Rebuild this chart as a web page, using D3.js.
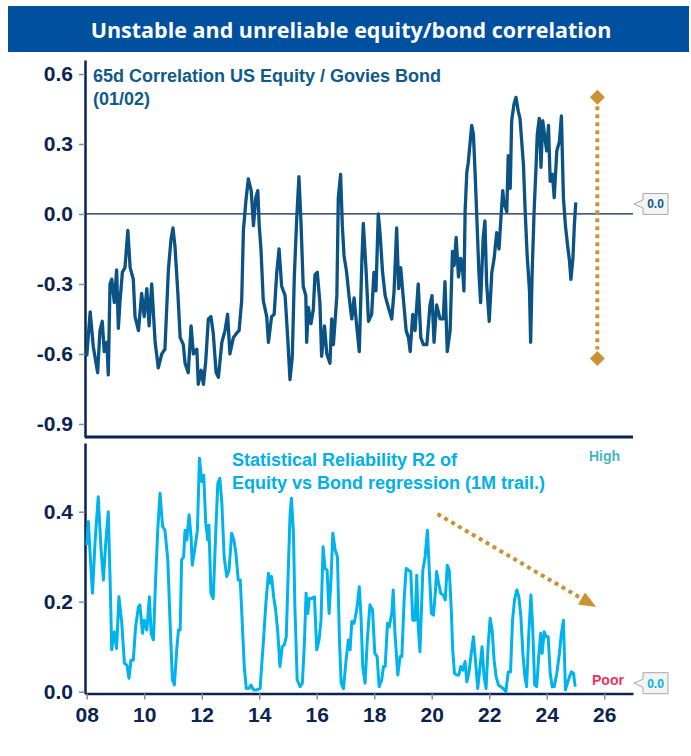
<!DOCTYPE html>
<html>
<head>
<meta charset="utf-8">
<script src="https://cdn.jsdelivr.net/npm/d3@7"></script>
<style>
  html, body { margin: 0; padding: 0; background: #ffffff; }
  svg { display: block; }
</style>
</head>
<body>
<svg id="chart" width="691" height="756"></svg>
<script>
// ---------------- DATA ----------------
const titleText = "Unstable and unreliable equity/bond correlation";
const corrLabel = ["65d Correlation US Equity / Govies Bond", "(01/02)"];
const r2Label = ["Statistical Reliability R2 of", "Equity vs Bond regression (1M trail.)"];

const corrYears = [2008.0,2008.12,2008.23,2008.38,2008.46,2008.54,2008.61,2008.70,2008.75,2008.81,2008.87,2008.96,2009.04,2009.10,2009.16,2009.24,2009.33,2009.43,2009.51,2009.62,2009.68,2009.80,2009.91,2010.0,2010.09,2010.17,2010.26,2010.38,2010.49,2010.61,2010.72,2010.84,2010.93,2011.0,2011.07,2011.17,2011.25,2011.36,2011.42,2011.53,2011.63,2011.71,2011.83,2011.88,2011.98,2012.06,2012.14,2012.23,2012.32,2012.40,2012.50,2012.58,2012.70,2012.81,2012.90,2012.98,2013.10,2013.22,2013.30,2013.39,2013.45,2013.54,2013.62,2013.72,2013.80,2013.88,2013.95,2014.0,2014.06,2014.14,2014.26,2014.32,2014.43,2014.52,2014.61,2014.69,2014.78,2014.90,2014.99,2015.07,2015.15,2015.22,2015.30,2015.38,2015.45,2015.53,2015.62,2015.65,2015.71,2015.80,2015.88,2015.94,2016.02,2016.11,2016.17,2016.27,2016.35,2016.46,2016.52,2016.58,2016.70,2016.75,2016.83,2016.89,2016.95,2017.04,2017.13,2017.22,2017.30,2017.39,2017.48,2017.57,2017.62,2017.72,2017.80,2017.91,2017.99,2018.06,2018.14,2018.20,2018.29,2018.38,2018.49,2018.61,2018.69,2018.78,2018.85,2018.92,2019.01,2019.11,2019.19,2019.25,2019.34,2019.42,2019.53,2019.62,2019.71,2019.83,2019.94,2020.01,2020.08,2020.17,2020.29,2020.40,2020.46,2020.54,2020.64,2020.72,2020.78,2020.85,2020.93,2021.01,2021.08,2021.12,2021.16,2021.22,2021.27,2021.33,2021.39,2021.45,2021.51,2021.57,2021.64,2021.70,2021.79,2021.85,2021.91,2022.00,2022.09,2022.17,2022.26,2022.34,2022.40,2022.47,2022.51,2022.61,2022.66,2022.73,2022.78,2022.86,2022.93,2023.01,2023.07,2023.13,2023.19,2023.25,2023.32,2023.40,2023.44,2023.49,2023.56,2023.63,2023.67,2023.74,2023.80,2023.86,2023.94,2024.0,2024.06,2024.12,2024.20,2024.26,2024.35,2024.44,2024.51,2024.58,2024.65,2024.72,2024.79,2024.84,2024.91,2024.96,2025.01];
const corrValues = [-0.61,-0.42,-0.57,-0.68,-0.50,-0.46,-0.59,-0.55,-0.69,-0.30,-0.28,-0.38,-0.24,-0.49,-0.37,-0.25,-0.23,-0.07,-0.23,-0.28,-0.44,-0.50,-0.34,-0.44,-0.32,-0.48,-0.30,-0.55,-0.66,-0.60,-0.58,-0.24,-0.11,-0.06,-0.14,-0.34,-0.53,-0.56,-0.64,-0.68,-0.48,-0.60,-0.58,-0.73,-0.67,-0.73,-0.63,-0.45,-0.44,-0.51,-0.68,-0.70,-0.55,-0.50,-0.43,-0.60,-0.53,-0.51,-0.50,-0.37,-0.07,0.06,0.15,0.10,-0.05,0.07,0.10,-0.05,-0.15,-0.37,-0.44,-0.55,-0.44,-0.43,-0.25,-0.15,-0.31,-0.35,-0.53,-0.71,-0.61,-0.27,-0.03,0.16,-0.03,-0.31,-0.35,-0.55,-0.40,-0.47,-0.41,-0.26,-0.25,-0.38,-0.61,-0.48,-0.60,-0.64,-0.45,-0.56,-0.35,0.07,0.17,-0.05,-0.18,-0.25,-0.36,-0.45,-0.36,-0.48,-0.59,-0.20,-0.04,-0.25,-0.46,-0.43,-0.25,-0.33,0.00,-0.08,-0.25,-0.35,-0.40,-0.45,-0.33,-0.06,-0.32,-0.23,-0.36,-0.50,-0.53,-0.59,-0.43,-0.50,-0.30,-0.53,-0.56,-0.56,-0.39,-0.35,-0.55,-0.39,-0.45,-0.45,-0.29,-0.59,-0.50,-0.16,-0.22,-0.10,-0.27,-0.19,-0.25,-0.33,0.01,0.18,0.22,0.30,0.38,0.34,0.17,-0.02,-0.25,-0.38,-0.10,-0.03,-0.30,-0.46,-0.25,-0.19,-0.08,-0.15,-0.03,0.10,0.05,0.01,0.25,0.11,0.40,0.47,0.50,0.44,0.41,0.31,0.21,0.01,-0.18,-0.33,-0.55,-0.26,0.01,0.21,0.34,0.41,0.20,0.40,0.32,0.27,0.38,0.14,0.17,0.07,0.27,0.31,0.42,0.07,-0.05,-0.13,-0.20,-0.28,-0.19,-0.05,0.05];

const r2Years = [2008.0,2008.06,2008.11,2008.20,2008.29,2008.40,2008.50,2008.58,2008.66,2008.75,2008.81,2008.87,2008.96,2009.04,2009.12,2009.22,2009.31,2009.40,2009.47,2009.54,2009.62,2009.70,2009.80,2009.85,2009.94,2010.0,2010.09,2010.18,2010.24,2010.32,2010.40,2010.47,2010.55,2010.64,2010.72,2010.82,2010.90,2010.98,2011.05,2011.13,2011.19,2011.25,2011.30,2011.37,2011.42,2011.48,2011.56,2011.63,2011.67,2011.77,2011.85,2011.92,2012.0,2012.07,2012.14,2012.21,2012.25,2012.32,2012.40,2012.49,2012.56,2012.63,2012.70,2012.78,2012.87,2012.95,2013.04,2013.12,2013.19,2013.27,2013.34,2013.41,2013.48,2013.55,2013.64,2013.71,2013.80,2013.91,2014.03,2014.09,2014.14,2014.23,2014.32,2014.38,2014.43,2014.50,2014.57,2014.64,2014.72,2014.80,2014.87,2014.94,2015.01,2015.07,2015.12,2015.19,2015.24,2015.32,2015.42,2015.50,2015.57,2015.63,2015.69,2015.74,2015.83,2015.92,2016.0,2016.08,2016.15,2016.22,2016.29,2016.36,2016.43,2016.50,2016.56,2016.64,2016.72,2016.79,2016.85,2016.93,2017.02,2017.10,2017.16,2017.22,2017.30,2017.39,2017.48,2017.54,2017.60,2017.68,2017.76,2017.85,2017.94,2018.02,2018.10,2018.17,2018.26,2018.32,2018.38,2018.46,2018.52,2018.61,2018.66,2018.72,2018.82,2018.90,2018.96,2019.04,2019.11,2019.19,2019.27,2019.34,2019.42,2019.48,2019.53,2019.59,2019.69,2019.77,2019.85,2019.92,2019.99,2020.06,2020.13,2020.17,2020.24,2020.31,2020.40,2020.47,2020.54,2020.61,2020.68,2020.73,2020.79,2020.87,2020.94,2021.01,2021.08,2021.16,2021.22,2021.29,2021.36,2021.45,2021.52,2021.60,2021.68,2021.75,2021.82,2021.89,2021.96,2022.03,2022.10,2022.17,2022.24,2022.32,2022.40,2022.49,2022.58,2022.66,2022.74,2022.81,2022.88,2022.96,2023.03,2023.10,2023.17,2023.24,2023.30,2023.37,2023.45,2023.51,2023.58,2023.65,2023.72,2023.79,2023.84,2023.91,2023.98,2024.05,2024.12,2024.19,2024.26,2024.35,2024.44,2024.51,2024.58,2024.65,2024.72,2024.79,2024.86,2024.93,2024.99];
const r2Values = [0.326,0.378,0.315,0.219,0.333,0.433,0.315,0.248,0.330,0.400,0.256,0.093,0.133,0.096,0.211,0.152,0.063,0.059,0.030,0.070,0.070,0.144,0.189,0.193,0.130,0.159,0.137,0.211,0.130,0.115,0.256,0.359,0.441,0.367,0.359,0.293,0.152,0.026,0.015,0.093,0.137,0.137,0.293,0.300,0.359,0.337,0.393,0.344,0.281,0.322,0.359,0.519,0.467,0.481,0.374,0.337,0.370,0.219,0.207,0.359,0.463,0.474,0.419,0.300,0.256,0.270,0.352,0.337,0.307,0.248,0.248,0.152,0.056,0.007,0.007,0.015,0.004,0.004,0.007,0.063,0.107,0.196,0.263,0.241,0.256,0.211,0.182,0.137,0.056,0.100,0.104,0.122,0.270,0.389,0.430,0.352,0.189,0.026,0.011,0.019,0.107,0.219,0.174,0.207,0.207,0.211,0.093,0.115,0.159,0.322,0.274,0.270,0.174,0.256,0.352,0.315,0.300,0.115,0.019,0.007,0.070,0.115,0.093,0.156,0.152,0.182,0.233,0.167,0.056,0.019,0.115,0.193,0.182,0.085,0.078,0.011,0.026,0.056,0.056,0.152,0.144,0.174,0.226,0.130,0.037,0.078,0.078,0.204,0.274,0.270,0.267,0.159,0.159,0.259,0.144,0.089,0.270,0.300,0.359,0.263,0.174,0.170,0.226,0.267,0.241,0.219,0.215,0.204,0.281,0.270,0.182,0.093,0.041,0.037,0.037,0.056,0.048,0.067,0.022,0.041,0.078,0.122,0.070,0.007,0.056,0.100,0.033,0.007,0.100,0.163,0.137,0.070,0.033,0.015,0.011,0.007,0.000,0.044,0.044,0.159,0.204,0.226,0.211,0.167,0.085,0.033,0.011,0.122,0.215,0.144,0.015,0.011,0.078,0.130,0.085,0.133,0.122,0.122,0.041,0.011,0.011,0.041,0.085,0.130,0.159,0.004,0.019,0.033,0.044,0.041,0.011];

const xTicks = [2008, 2010, 2012, 2014, 2016, 2018, 2020, 2022, 2024, 2026];
const yTopTicks = [0.6, 0.3, 0.0, -0.3, -0.6, -0.9];
const yBotTicks = [0.0, 0.2, 0.4];

// annotation anchor values (data units)
const rangeMarkX = 2025.76;
const rangeMarkVals = [0.5, -0.62];
const trendArrow = { x0: 2020.2, y0: 0.395, x1: 2025.72, y1: 0.188 };

// ---------------- STYLE ----------------
const C = {
  titleBg: "#0050a0",
  navy: "#0b2350",
  tickGray: "#7f8ca3",
  corrLine: "#0b5384",
  corrText: "#0e5b8b",
  r2Line: "#00b3ec",
  r2Text: "#00b0e8",
  gold: "#c99335",
  high: "#45b5c2",
  poor: "#e8355f"
};
const tickFont = "'Liberation Sans', Arial, sans-serif";

const svg = d3.select("#chart");

// title bar
svg.append("rect").attr("x", 8).attr("y", 6).attr("width", 681).attr("height", 46).attr("fill", C.titleBg);
svg.append("text").attr("x", 351).attr("y", 37.5).attr("text-anchor", "middle")
  .attr("fill", "#ffffff").style("font-family", "'Open Sans', sans-serif")
  .style("font-weight", 700).style("font-size", "21.5px").text(titleText);

// scales
const x = d3.scaleLinear().domain([2007.94, 2027.0]).range([85, 633]);
const yTop = d3.scaleLinear().domain([-0.956, 0.66]).range([437, 60]);
const yBot = d3.scaleLinear().domain([-0.004, 0.5527]).range([693.5, 443]);

const fmt = v => (v < 0 ? "-" : "") + Math.abs(v).toFixed(1);

function styleAxis(g) {
  g.selectAll(".tick line").attr("stroke", C.tickGray).attr("stroke-width", 1.5);
  g.selectAll(".tick text").attr("fill", C.navy)
    .style("font-family", tickFont).style("font-weight", 700).style("font-size", "21px");
  g.select(".domain").attr("stroke", C.navy).attr("stroke-width", 2.5);
}

// top panel y axis
svg.append("g").attr("transform", "translate(85,0)")
  .call(d3.axisLeft(yTop).tickValues(yTopTicks).tickFormat(fmt).tickSize(6).tickSizeOuter(0).tickPadding(6))
  .call(styleAxis);
// top panel bottom border
svg.append("line").attr("x1", 85).attr("x2", 633).attr("y1", 437).attr("y2", 437)
  .attr("stroke", C.navy).attr("stroke-width", 3);
// zero line
svg.append("line").attr("x1", 85).attr("x2", 633).attr("y1", yTop(0)).attr("y2", yTop(0))
  .attr("stroke", C.navy).attr("stroke-width", 1.3);

// bottom panel y axis
svg.append("g").attr("transform", "translate(85,0)")
  .call(d3.axisLeft(yBot).tickValues(yBotTicks).tickFormat(fmt).tickSize(6).tickSizeOuter(0).tickPadding(6))
  .call(styleAxis);
// x axis
const xg = svg.append("g").attr("transform", "translate(0,693.5)")
  .call(d3.axisBottom(x).tickValues(xTicks).tickFormat(d => String(d % 100).padStart(2, "0"))
    .tickSize(6).tickSizeOuter(0).tickPadding(7))
  .call(styleAxis);
xg.selectAll(".tick text").attr("dy", "0.75em");

// series lines
const corrData = corrYears.map((d, i) => [d, corrValues[i]]);
const r2Data = r2Years.map((d, i) => [d, r2Values[i]]);

svg.append("path").datum(corrData)
  .attr("fill", "none").attr("stroke", C.corrLine).attr("stroke-width", 3.3).attr("stroke-linejoin", "round")
  .attr("d", d3.line().x(d => x(d[0])).y(d => yTop(d[1])));

svg.append("path").datum(r2Data)
  .attr("fill", "none").attr("stroke", C.r2Line).attr("stroke-width", 3).attr("stroke-linejoin", "round")
  .attr("d", d3.line().x(d => x(d[0])).y(d => yBot(d[1])));

// series labels
const lblFont = "'Liberation Sans', Arial, sans-serif";
corrLabel.forEach((t, i) => {
  svg.append("text").attr("x", 93).attr("y", 82 + i * 23).attr("fill", C.corrText)
    .style("font-family", lblFont).style("font-weight", 700).style("font-size", "18px").text(t);
});
r2Label.forEach((t, i) => {
  svg.append("text").attr("x", 232).attr("y", 466 + i * 23).attr("fill", C.r2Text)
    .style("font-family", lblFont).style("font-weight", 700).style("font-size", "18px").text(t);
});

svg.append("text").attr("x", 589).attr("y", 461).attr("fill", C.high)
  .style("font-family", lblFont).style("font-weight", 700).style("font-size", "14px").text("High");
svg.append("text").attr("x", 592).attr("y", 685).attr("fill", C.poor)
  .style("font-family", lblFont).style("font-weight", 700).style("font-size", "14px").text("Poor");

// last-value callouts
function callout(yTip, color) {
  const x0 = 634, bx = 643, bw = 25, bh = 21, by = yTip - 10.5;
  const p = `M${x0},${yTip} L${bx},${yTip - 4} L${bx},${by} L${bx + bw},${by} L${bx + bw},${by + bh} L${bx},${by + bh} L${bx},${yTip + 4} Z`;
  svg.append("path").attr("d", p).attr("fill", "#f3f3f3").attr("stroke", "#a8a8a8").attr("stroke-width", 1);
  svg.append("text").attr("x", bx + bw / 2).attr("y", yTip + 4.5).attr("text-anchor", "middle").attr("fill", color)
    .style("font-family", lblFont).style("font-weight", 700).style("font-size", "12px").text("0.0");
}
callout(yTop(0) - 10, C.corrText);
callout(yBot(0) - 8.5, C.r2Text);

// gold range marker
const rx = x(rangeMarkX);
svg.append("line").attr("x1", rx).attr("x2", rx)
  .attr("y1", yTop(rangeMarkVals[0]) + 9).attr("y2", yTop(rangeMarkVals[1]) - 9)
  .attr("stroke", C.gold).attr("stroke-width", 4).attr("stroke-dasharray", "4,4");
rangeMarkVals.forEach(v => {
  const cy = yTop(v);
  svg.append("path").attr("d", `M${rx},${cy - 7.5} L${rx + 7.5},${cy} L${rx},${cy + 7.5} L${rx - 7.5},${cy} Z`)
    .attr("fill", C.gold);
});

// gold trend arrow
const ax0 = x(trendArrow.x0), ay0 = yBot(trendArrow.y0), ax1 = x(trendArrow.x1), ay1 = yBot(trendArrow.y1);
const ang = Math.atan2(ay1 - ay0, ax1 - ax0);
const headLen = 17, headW = 7;
const bxp = ax1 - headLen * Math.cos(ang), byp = ay1 - headLen * Math.sin(ang);
svg.append("line").attr("x1", ax0).attr("y1", ay0).attr("x2", bxp).attr("y2", byp)
  .attr("stroke", C.gold).attr("stroke-width", 4).attr("stroke-dasharray", "4,4");
svg.append("path").attr("d",
  `M${ax1},${ay1} L${bxp - headW * Math.sin(ang)},${byp + headW * Math.cos(ang)} L${bxp + headW * Math.sin(ang)},${byp - headW * Math.cos(ang)} Z`)
  .attr("fill", C.gold);
</script>
</body>
</html>
